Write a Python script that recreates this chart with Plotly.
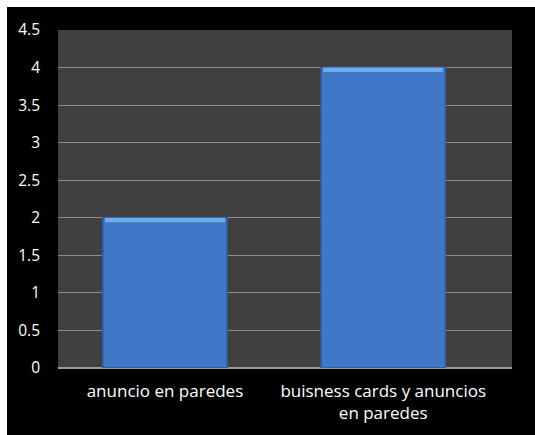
import plotly.graph_objects as go

categories = ["anuncio en paredes", "buisness cards y anuncios<br>en paredes"]
values = [2, 4]
y_ticks = [0, 0.5, 1, 1.5, 2, 2.5, 3, 3.5, 4, 4.5]
y_tick_labels = ["0", "0.5", "1", "1.5", "2", "2.5", "3", "3.5", "4", "4.5"]

W, H = 535, 435
ML, MR, MT, MB = 58, 23, 30, 67
PW, PH = W - ML - MR, H - MT - MB

bevel = 0.06
y_font = dict(family="Open Sans, sans-serif", size=15.5, color="#ffffff")
x_font = dict(family="Open Sans, sans-serif", size=17, color="#ffffff")

fig = go.Figure()
fig.add_trace(go.Bar(
    x=categories, y=values, width=0.57,
    marker=dict(color="#3f78c6", line=dict(color="#2d5c9c", width=1.5)),
    hoverinfo="skip",
))
# lighter bevel strip along the top of each bar
fig.add_trace(go.Bar(
    x=categories, y=[bevel] * len(values), base=[v - bevel for v in values],
    width=0.55,
    marker=dict(color="#72aaf0", line=dict(width=0)),
    hoverinfo="skip",
))

# white frame strips above and left of the black chart area
fig.add_shape(type="rect", xref="paper", yref="paper",
              x0=-ML / PW - 0.01, x1=(W - ML) / PW + 0.01,
              y0=1 + (MT - 7) / PH, y1=1 + MT / PH + 0.01,
              fillcolor="#ffffff", line_width=0)
fig.add_shape(type="rect", xref="paper", yref="paper",
              x0=-ML / PW - 0.01, x1=-(ML - 7) / PW,
              y0=-MB / PH - 0.01, y1=1 + MT / PH + 0.01,
              fillcolor="#ffffff", line_width=0)

fig.update_layout(
    width=W, height=H,
    margin=dict(l=ML, r=MR, t=MT, b=MB, pad=0),
    paper_bgcolor="#000000",
    plot_bgcolor="#404040",
    barmode="overlay",
    showlegend=False,
    font=x_font,
)
fig.update_xaxes(
    range=[-0.49, 1.59],
    showgrid=False, zeroline=False,
    showline=False,
    ticks="", tickfont=x_font,
    ticklabelstandoff=11,
)
fig.update_yaxes(
    range=[0, 4.5],
    tickvals=y_ticks, ticktext=y_tick_labels,
    showgrid=True, gridcolor="#8c8c8c", gridwidth=1,
    zeroline=True, zerolinecolor="#9a9a9a", zerolinewidth=2,
    showline=False, ticks="",
    tickfont=y_font, ticklabelstandoff=17,
)

fig.write_html("out.html")
